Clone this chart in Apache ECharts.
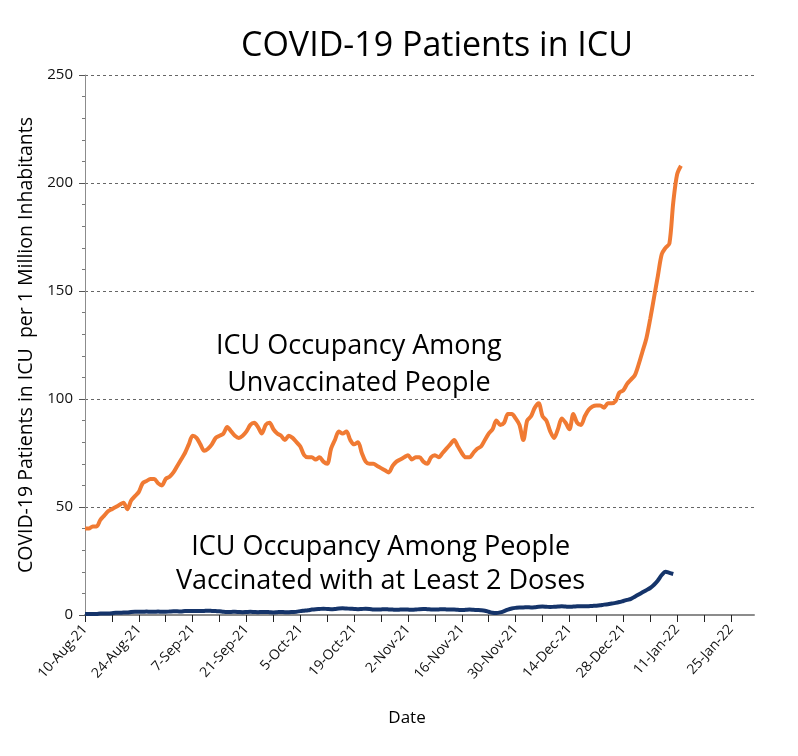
<!DOCTYPE html>
<html>
<head>
<meta charset="utf-8">
<script src="https://cdn.jsdelivr.net/npm/echarts@6/dist/echarts.min.js"></script>
<style>
html, body { margin: 0; padding: 0; background: #fff; }
#main { width: 798px; height: 756px; }
</style>
</head>
<body>
<div id="main"></div>
<script>
// daily values from 10-Aug-21 to 12-Jan-22, per 1 million inhabitants
var unvaccinated = [
	40, 40, 41, 41, 44, 46, 48, 49, 50, 51, 52, 49, 53, 55,
	57, 61, 62, 63, 63, 61, 60, 63, 64, 66, 69, 72, 75, 79,
	83, 82, 79, 76, 77, 79, 82, 83, 84, 87, 85, 83, 82, 83,
	85, 88, 89, 87, 84, 88, 89, 86, 84, 83, 81, 83, 82, 80,
	78, 74, 73, 73, 72, 73, 71, 70, 77, 81, 85, 84, 85, 81,
	79, 80, 75, 71, 70, 70, 69, 68, 67, 66, 69, 71, 72, 73,
	74, 72, 73, 73, 71, 70, 73, 74, 73, 75, 77, 79, 81, 78,
	75, 73, 73, 75, 77, 78, 81, 84, 86, 90, 88, 89, 93, 93,
	91, 88, 81, 90, 92, 96, 98, 92, 90, 85, 82, 86, 91, 89,
	86, 93, 89, 88, 92, 95, 96.5, 97, 97, 96, 98, 98, 99, 103,
	104, 107, 109, 111, 116, 122, 128, 137, 147, 157, 167, 170, 172, 191,
	204, 208
];
var vaccinated = [
	0.5, 0.5, 0.5, 0.5, 0.7, 0.7, 0.7, 0.8, 1.0, 1.0, 1.1, 1.1, 1.4, 1.5,
	1.5, 1.5, 1.6, 1.5, 1.5, 1.6, 1.5, 1.5, 1.6, 1.7, 1.7, 1.6, 1.8, 1.8,
	1.9, 1.8, 1.8, 1.9, 2.0, 1.9, 1.8, 1.7, 1.5, 1.4, 1.4, 1.5, 1.4, 1.3,
	1.4, 1.5, 1.4, 1.3, 1.4, 1.4, 1.3, 1.2, 1.3, 1.4, 1.3, 1.3, 1.4, 1.5,
	1.8, 2.0, 2.2, 2.5, 2.7, 2.8, 2.9, 2.8, 2.7, 2.8, 3.0, 3.1, 3.0, 2.9,
	2.8, 2.7, 2.8, 2.9, 2.8, 2.6, 2.5, 2.6, 2.7, 2.6, 2.5, 2.4, 2.5, 2.6,
	2.5, 2.4, 2.5, 2.7, 2.8, 2.7, 2.6, 2.5, 2.6, 2.7, 2.6, 2.5, 2.5, 2.4,
	2.3, 2.4, 2.5, 2.4, 2.3, 2.2, 2.0, 1.5, 1.0, 0.9, 1.2, 1.8, 2.5, 3.0,
	3.3, 3.5, 3.5, 3.6, 3.5, 3.6, 3.8, 3.9, 3.8, 3.7, 3.8, 3.9, 4.0, 3.9,
	3.8, 3.9, 4.0, 4.1, 4.0, 4.1, 4.2, 4.3, 4.5, 4.8, 5.0, 5.3, 5.6, 6.0,
	6.5, 7.0, 7.5, 8.5, 9.5, 10.5, 11.5, 12.5, 14, 16, 18.5, 20,
	19.5, 19
];
var yTicks = [0, 50, 100, 150, 200, 250];
var startDate = new Date(2021, 7, 10);
var dayCount = 175; // 10-Aug-21 .. 31-Jan-22
var months = ['Jan', 'Feb', 'Mar', 'Apr', 'May', 'Jun', 'Jul', 'Aug', 'Sep', 'Oct', 'Nov', 'Dec'];

var dates = [];
for (var i = 0; i < dayCount; i++) {
	var d = new Date(startDate.getTime());
	d.setDate(d.getDate() + i);
	dates.push(d.getDate() + '-' + months[d.getMonth()] + '-' + String(d.getFullYear()).slice(2));
}

var font = "'Open Sans', sans-serif";
var myChart = echarts.init(document.getElementById('main'));

myChart.setOption({
	backgroundColor: '#fff',
	animation: false,
	title: {
		text: 'COVID-19 Patients in ICU',
		left: 236,
		top: 24,
		textStyle: { fontFamily: font, fontSize: 34, fontWeight: 'normal', color: '#000' }
	},
	grid: { left: 85, right: 44, top: 75, bottom: 141 },
	xAxis: {
		type: 'category',
		data: dates,
		boundaryGap: false,
		name: 'Date',
		nameLocation: 'middle',
		nameGap: 95,
		nameTextStyle: { fontFamily: font, fontSize: 17, color: '#000', padding: [0, 0, 0, -25] },
		axisLine: { lineStyle: { color: '#8c8c8c', width: 2 } },
		axisTick: {
			interval: function (idx) { return idx % 7 === 0; },
			length: 7,
			lineStyle: { color: '#222', width: 1 }
		},
		axisLabel: {
			interval: function (idx) { return idx % 14 === 0; },
			rotate: 48,
			margin: 12,
			fontFamily: font,
			fontSize: 14,
			color: '#111'
		},
		splitLine: { show: false }
	},
	yAxis: {
		type: 'value',
		min: yTicks[0],
		max: yTicks[yTicks.length - 1],
		interval: 50,
		name: 'COVID-19 Patients in ICU  per 1 Million Inhabitants',
		nameLocation: 'middle',
		nameGap: 47,
		nameRotate: 90,
		nameTextStyle: { fontFamily: font, fontSize: 19.5, color: '#000' },
		axisLine: { show: true, lineStyle: { color: '#8c8c8c', width: 1 } },
		axisTick: { show: true, length: 6, lineStyle: { color: '#555' } },
		minorTick: { show: true, splitNumber: 5, length: 3, lineStyle: { color: '#777' } },
		axisLabel: { fontFamily: font, fontSize: 15, color: '#111', margin: 12 },
		splitLine: { lineStyle: { color: '#666', type: [3, 3], width: 1 } }
	},
	graphic: [{
		type: 'text',
		left: 216,
		top: 328,
		style: {
			text: 'ICU Occupancy Among\nUnvaccinated People',
			textAlign: 'center',
			fontFamily: font,
			fontSize: 27,
			lineHeight: 37,
			fill: '#000'
		}
	}, {
		type: 'text',
		left: 176,
		top: 530,
		style: {
			text: 'ICU Occupancy Among People\nVaccinated with at Least 2 Doses',
			textAlign: 'center',
			fontFamily: font,
			fontSize: 27,
			lineHeight: 34,
			fill: '#000'
		}
	}],
	series: [{
		name: 'Unvaccinated',
		type: 'line',
		data: unvaccinated,
		showSymbol: false,
		smooth: 0.3,
		lineStyle: { color: '#f07a33', width: 4 },
		z: 3
	}, {
		name: 'Vaccinated with at least 2 doses',
		type: 'line',
		data: vaccinated,
		showSymbol: false,
		smooth: 0.3,
		lineStyle: { color: '#15346a', width: 4 },
		z: 4
	}]
});
</script>
</body>
</html>
